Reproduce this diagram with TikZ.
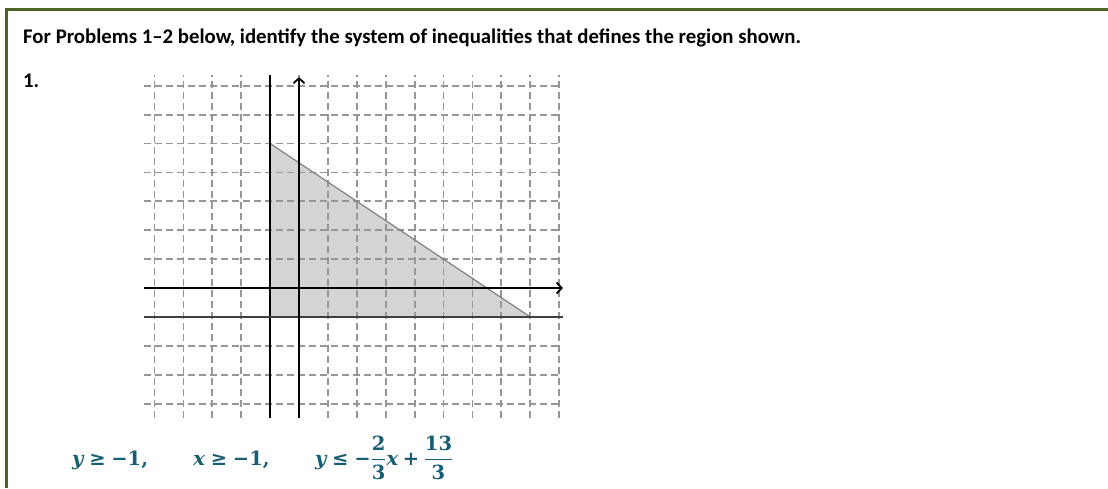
\documentclass[tikz,border=0pt]{standalone}
\usepackage{amsmath}
\usepackage{amssymb}
\usepackage{fontspec}
\setmainfont{Carlito}
\newfontfamily\eqfont{DejaVu Serif}
\newcommand{\ev}[1]{\text{\eqfont\bfseries\itshape #1}}
\newcommand{\en}[1]{\text{\eqfont\bfseries #1}}
\usetikzlibrary{arrows.meta, positioning}
\definecolor{framegreen}{RGB}{79,98,40}
\definecolor{eqteal}{RGB}{23,94,115}
\definecolor{gridgray}{RGB}{150,150,150}
\definecolor{regiongray}{RGB}{212,212,212}

\begin{document}
\begin{tikzpicture}[x=1pt, y=1pt,
  heading/.style={font=\fontsize{20.8}{24}\selectfont\bfseries, inner sep=0pt, anchor=base west},
  ineq/.style={font=\fontsize{19.5}{23}\selectfont, text=eqteal, inner sep=0pt},
  gridline/.style={gridgray, line width=1.8pt, dash pattern=on 7pt off 4pt},
  axis/.style={black, line width=1.8pt, -{Straight Barb[length=5pt, width=11pt]}},
  bound/.style={line width=1.8pt},
  edge/.style={gray, line width=1.2pt}
]
\useasboundingbox (0,0) rectangle (1108,-488);
\draw[framegreen, line width=3pt] (6,-488) -- (6,-9.5) -- (1108,-9.5);

\node[heading] (title) at (23,-43.3) {For Problems 1--2 below, identify the system of inequalities that defines the region shown.};
\node[heading] (num) at (23,-87) {1.};

\begin{scope}[shift={(299,-288)}, x=28.9pt, y=28.9pt]
  \coordinate (corner) at (-1,-1);
  \coordinate (apex) at (-1,5);
  \coordinate (tip) at (8,-1);
  \fill[regiongray] (corner) -- (apex) -- (tip) -- cycle;
  \foreach \gx in {-5,...,9}
    \draw[gridline] (\gx,-4.5) -- (\gx,7.37);
  \foreach \gy in {-4,...,7}
    \draw[gridline] (-5.36,\gy) -- (9,\gy);
  \draw[edge] (apex) -- (tip);
  \draw[bound] (-1,-4.5) -- (-1,7.37);
  \draw[bound, black!75] (-5.36,-1) -- (9.13,-1);
  \draw[axis] (-5.36,0) -- (9.13,0);
  \draw[axis] (0,-4.5) -- (0,7.3);
\end{scope}

\node[ineq, anchor=base west] (ineqa) at (72,-465) {$\ev{y}\mathrel{\en{≥}}\en{−1,}$};
\node[ineq, base right=45pt of ineqa] (ineqb) {$\ev{x}\mathrel{\en{≥}}\en{−1,}$};
\node[ineq, base right=45pt of ineqb] (ineqc) {$\ev{y}\mathrel{\en{≤}}\en{−}\genfrac{}{}{1.3pt}{0}{\en{2}}{\en{3}}\ev{x}\mathbin{\en{+}}\genfrac{}{}{1.3pt}{0}{\en{13}}{\en{3}}$};
\end{tikzpicture}
\end{document}
